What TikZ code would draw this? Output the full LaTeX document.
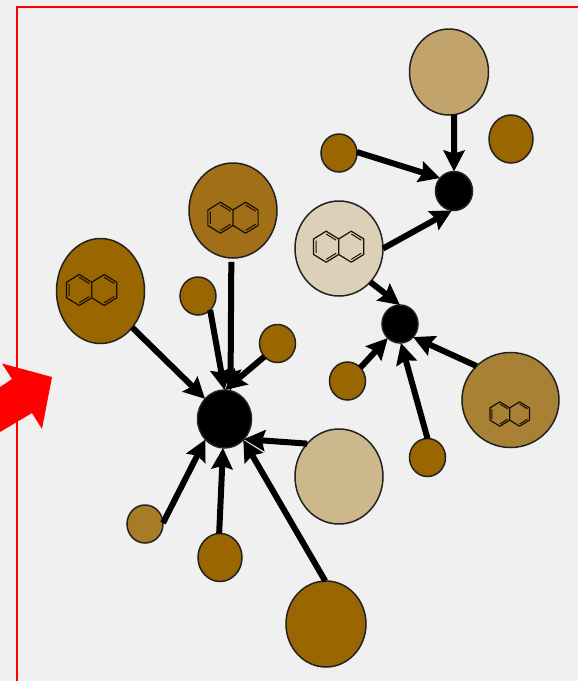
\documentclass[tikz,border=0pt]{standalone}
\usetikzlibrary{arrows.meta,shapes.geometric}

\definecolor{pagegray}{HTML}{F0F0F0}
\definecolor{edgegray}{HTML}{222222}
\definecolor{brownfull}{HTML}{996600}
\definecolor{brownsoft}{HTML}{A06F17}
\definecolor{brownmid}{HTML}{A98134}
\definecolor{brownleaf}{HTML}{A67C27}
\definecolor{tanmid}{HTML}{C1A36B}
\definecolor{tanlight}{HTML}{CDB78C}
\definecolor{tanpale}{HTML}{DDD0B8}

\tikzset{
  blob/.style={draw=edgegray, line width=1.5pt, ellipse, inner sep=0pt, outer sep=0pt, fill=brownfull},
  leaf/.style={blob, minimum width=36pt, minimum height=38pt},
  midleaf/.style={blob, minimum width=44pt, minimum height=48pt},
  large/.style={blob, minimum width=88pt, minimum height=95pt},
  hub/.style={blob, fill=black},
  flow/.style={line width=6pt, -{Stealth[length=21pt, width=21pt, inset=3pt]}},
  pics/naphthalene/.style={code={
    \draw[line width=1.2pt, draw=black!85!brownfull, line join=round]
      (0,.5) -- (-.866,1) -- (-1.732,.5) -- (-1.732,-.5) -- (-.866,-1) -- (0,-.5)
      -- (.866,-1) -- (1.732,-.5) -- (1.732,.5) -- (.866,1) -- cycle
      (0,.5) -- (0,-.5);
    % inner strokes of the double bonds
    \draw[line width=1pt, draw=black!85!brownfull]
      (-1.559,.4) -- (-1.559,-.4)
      (-.866,.82) -- (-.173,.42)
      (-.866,-.82) -- (-.173,-.42)
      (.866,.82) -- (1.559,.42)
      (.866,-.82) -- (1.559,-.42);
  }}
}

\begin{document}
\begin{tikzpicture}[x=1pt, y=-1pt]
  \useasboundingbox[fill=pagegray] (0,0) rectangle (578,681);

  % Frame and pointer
  \draw[red, line width=1.5pt] (17,681) -- (17,7) -- (578,7);
  \fill[red] (2,363.5) -- (52,377) -- (42,429) -- (32,413) -- (0,432) -- (0,387) -- (12,379) -- cycle;

  % Upper cluster
  \node[blob, fill=tanmid, minimum width=79pt, minimum height=86pt] (tantop) at (449,72) {};
  \node[midleaf] (leafnortheast) at (511,139) {};
  \node[leaf] (leafnorth) at (339,153) {};
  \node[hub, minimum width=37pt, minimum height=39pt] (hubtop) at (454,191) {};
  \node[large, fill=tanpale] (palemol) at (339,248.5) {};

  % Middle cluster
  \node[hub, minimum width=36pt, minimum height=38pt] (hubmid) at (400,324) {};
  \node[leaf] (leafmidwest) at (347.5,381) {};
  \node[leaf] (leafmidsouth) at (427.5,457.5) {};
  \node[blob, fill=brownmid, minimum width=97pt, minimum height=95pt] (bigmol) at (510.5,400) {};

  % Lower cluster
  \node[large, fill=brownsoft] (topmol) at (233,210.5) {};
  \node[blob, minimum width=88pt, minimum height=105pt] (leftmol) at (100.5,291) {};
  \node[leaf] (leafnw) at (198,296) {};
  \node[leaf] (leafne) at (277.5,343.5) {};
  \node[hub, minimum width=54pt, minimum height=58pt] (hubbig) at (224.5,419) {};
  \node[large, fill=tanlight] (paleeast) at (339,476.5) {};
  \node[leaf, fill=brownleaf] (leafsw) at (145,524) {};
  \node[midleaf] (leafsouth) at (220,557.5) {};
  \node[blob, minimum width=80pt, minimum height=86pt] (bottomblob) at (326,624) {};

  % Molecules
  \pic[xscale=14.5, yscale=15.5] (molpale) at (338.7,246.7) {naphthalene};
  \pic[xscale=11.4, yscale=12.2] (molbig) at (509.7,414) {naphthalene};
  \pic[xscale=14.5, yscale=15.5] (moltop) at (233,217.7) {naphthalene};
  \pic[xscale=14.5, yscale=15.5] (molleft) at (91.7,290) {naphthalene};

  % Connectors
  \draw[flow] (tantop.-83.4) -- (hubtop.90);
  \draw[flow] (leafnorth.3) -- (hubtop.137);
  \draw[flow] (palemol.0) -- (hubtop.264);
  \draw[flow] (palemol.-47) -- (hubmid.90);
  \draw[flow] (leafmidwest.46) -- (hubmid.229);
  \draw[flow] (leafmidsouth.90) -- (hubmid.-87);
  \draw[flow] (bigmol.135) -- (hubmid.-45);
  \draw[flow] (leftmol.-49) -- (hubbig.134);
  \draw[flow, shorten <=4pt] (topmol.-92.6) -- (hubbig.78);
  \draw[flow] (leafnw.-49) -- (hubbig.90);
  \draw[flow] (leafne.225) -- (hubbig.89);
  \draw[flow] (paleeast.134) -- (hubbig.-46);
  \draw[flow] (bottomblob.91) -- (hubbig.-48);
  \draw[flow] (leafsouth.92) -- (hubbig.-93);
  \draw[flow] (leafsw.3) -- (hubbig.227);
\end{tikzpicture}
\end{document}
